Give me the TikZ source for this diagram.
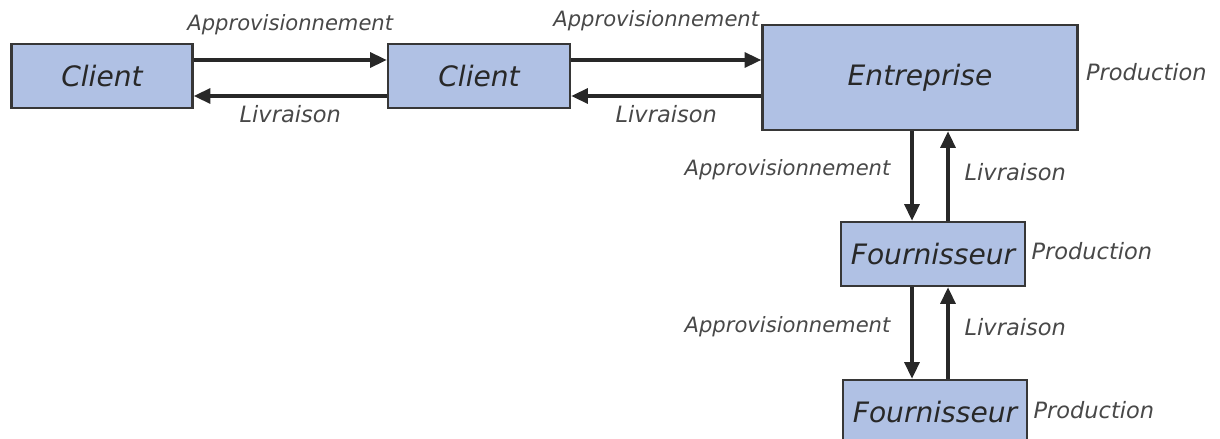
\documentclass[tikz,border=0pt]{standalone}
\usepackage{fontspec}
\setmainfont{DejaVu Sans}
\usetikzlibrary{arrows.meta}

\definecolor{boxblue}{RGB}{176,193,228}
\definecolor{edgegray}{RGB}{55,55,55}
\definecolor{inkgray}{RGB}{40,40,40}

\begin{document}
\begin{tikzpicture}[x=0.02cm,y=-0.02cm]
		% Styles for boxes, flows and labels
		\tikzset{
			unit/.style={draw=edgegray, line width=1.4pt, fill=boxblue, text=inkgray, inner sep=0pt,
				font=\fontsize{16}{18}\selectfont\itshape},
			flow/.style={-{Triangle[length=9.5pt,width=8.5pt]}, line width=1.9pt, draw=inkgray},
			lbl/.style={text=inkgray!85, inner sep=0pt, font=\fontsize{12}{14}\selectfont\itshape},
			lblw/.style={lbl, font=\fontsize{12.8}{14}\selectfont\itshape},
		}
		\useasboundingbox (0,0) rectangle (1220,439);
		
		% Draw the boxes
		\node[unit, minimum width=3.62cm, minimum height=1.28cm] (cli1) at (102,76) {Client};
		\node[unit, minimum width=3.64cm, minimum height=1.28cm] (cli2) at (479,76) {Client};
		\node[unit, minimum width=6.30cm, minimum height=2.10cm] (ent) at (920,77.5) {Entreprise};
		\node[unit, minimum width=3.68cm, minimum height=1.28cm] (four1) at (933,254) {Fournisseur};
		\node[unit, minimum width=3.68cm, minimum height=1.28cm] (four2) at (935,412) {Fournisseur};
		
		% Levels of the connectors
		\coordinate (hi) at (0,60);
		\coordinate (lo) at (0,96);
		\coordinate (dn) at (912,0);
		\coordinate (up) at (948,0);
		
		% Horizontal flows
		\draw[flow] (cli1.east |- hi) -- node[lbl, above=4.6mm] (ap1) {Approvisionnement} (cli2.west |- hi);
		\draw[flow] (cli2.west |- lo) -- node[lblw, below=1.6mm] (li1) {Livraison} (cli1.east |- lo);
		\draw[flow] (cli2.east |- hi) -- node[lbl, above=5.4mm, xshift=-2mm] (ap2) {Approvisionnement} (ent.west |- hi);
		\draw[flow] (ent.west |- lo) -- node[lblw, below=1.6mm] (li2) {Livraison} (cli2.east |- lo);
		
		% Vertical flows
		\draw[flow] (dn |- ent.south) -- node[lbl, left=4mm, yshift=1.2mm] (ap3) {Approvisionnement} (dn |- four1.north);
		\draw[flow] (up |- four1.north) -- node[lblw, right=3mm, yshift=0.8mm] (li3) {Livraison} (up |- ent.south);
		\draw[flow] (dn |- four1.south) -- node[lbl, left=4mm, yshift=1.2mm] (ap4) {Approvisionnement} (dn |- four2.north);
		\draw[flow] (up |- four2.north) -- node[lblw, right=3mm, yshift=1.2mm] (li4) {Livraison} (up |- four1.south);
		
		% Production labels
		\node[lblw, anchor=west] (prod1) at ([xshift=1.4mm, yshift=1mm]ent.east) {Production};
		\node[lblw, anchor=west] (prod2) at ([xshift=1mm, yshift=0.6mm]four1.east) {Production};
		\node[lblw, anchor=west] (prod3) at ([xshift=1mm, yshift=0.4mm]four2.east) {Production};
	\end{tikzpicture}
\end{document}
